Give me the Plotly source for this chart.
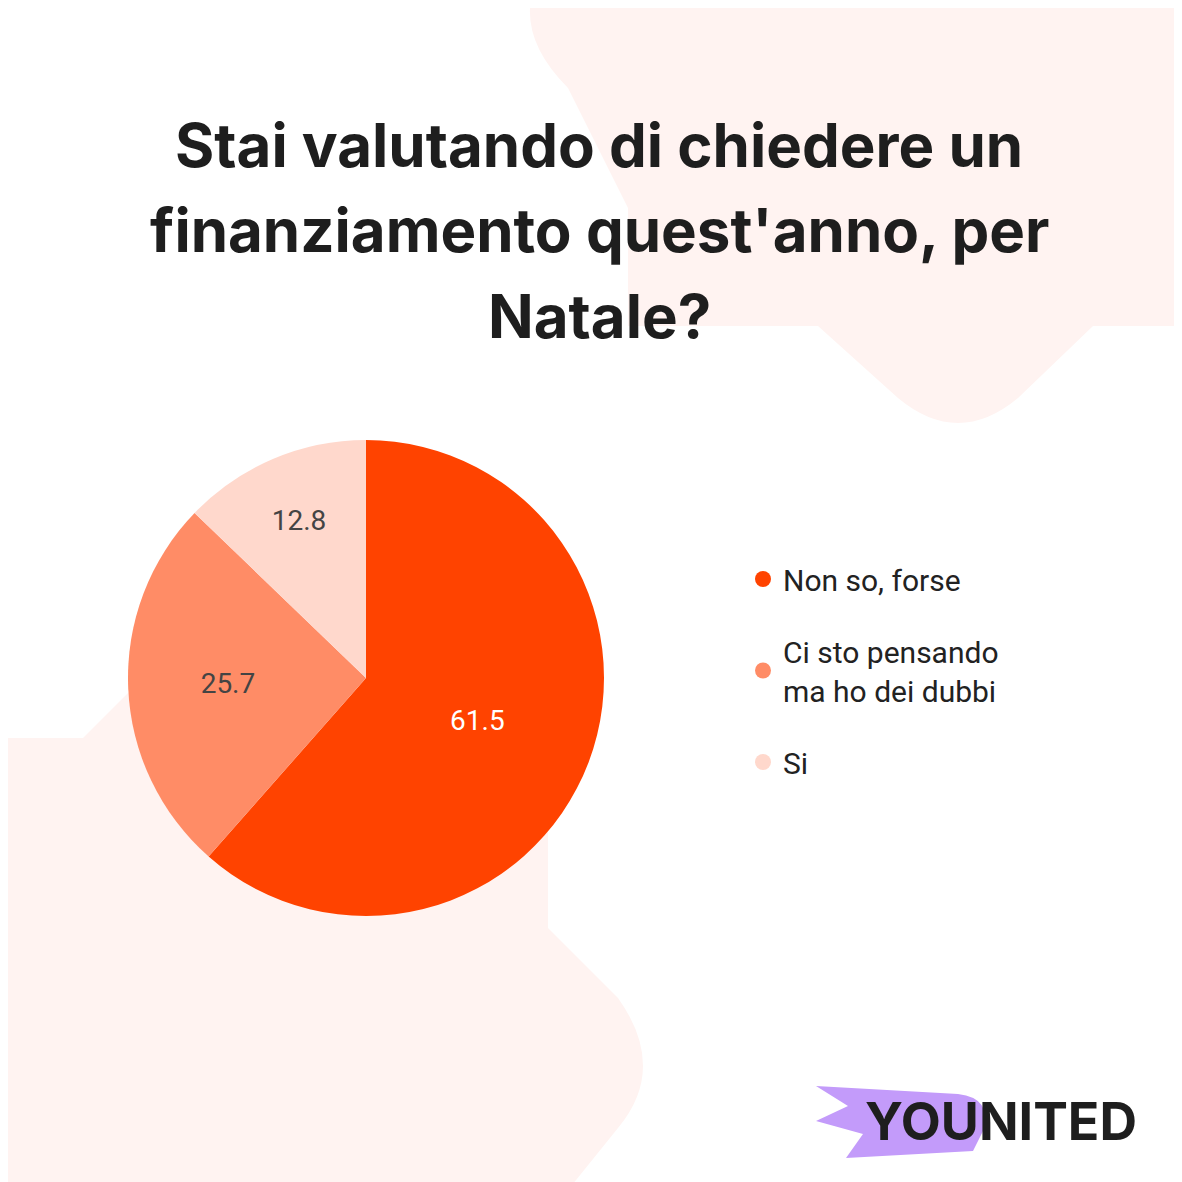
import plotly.graph_objects as go

labels = ["Non so, forse", "Ci sto pensando<br>ma ho dei dubbi", "Si"]
values = [61.5, 25.7, 12.8]
colors = ["#FF4300", "#FF8C66", "#FFD8CC"]
text_colors = ["white", "#444444", "#444444"]
title_lines = ["Stai valutando di chiedere un", "finanziamento quest'anno, per", "Natale?"]

W = 1182
def px(x): return x / W
def py(y): return 1 - y / W

fig = go.Figure(go.Pie(
    labels=labels, values=values, sort=False, direction="clockwise", rotation=0,
    marker=dict(colors=colors), textinfo="value", texttemplate="%{value}",
    textfont=dict(size=28, color=text_colors, family="Roboto"),
    insidetextorientation="horizontal", showlegend=False,
    domain=dict(x=[px(120), px(596)], y=[py(908), py(432)]),
    hoverinfo="skip",
))
for i, (lab, col) in enumerate(zip(labels, colors)):
    fig.add_trace(go.Scatter(x=[None], y=[None], mode="markers", name=lab, legendgroup=str(i),
                             marker=dict(symbol="circle", size=40, color=col)))

bg = "#FFF3F1"
shapes = [
    dict(type="path", xref="paper", yref="paper", layer="below", fillcolor=bg, line=dict(width=0),
         path=f"M {px(522)},1 L 1,1 L 1,{py(318)} L {px(1085)},{py(318)} L {px(1010)},{py(390)} Q {px(950)},{py(440)} {px(890)},{py(390)} L {px(810)},{py(318)} L {px(620)},{py(318)} L {px(620)},{py(200)} L {px(560)},{py(80)} Q {px(520)},{py(40)} {px(522)},1 Z"),
    dict(type="path", xref="paper", yref="paper", layer="below", fillcolor=bg, line=dict(width=0),
         path=f"M 0,{py(730)} L {px(75)},{py(730)} L {px(145)},{py(660)} L {px(540)},{py(660)} L {px(540)},{py(920)} L {px(610)},{py(990)} Q {px(660)},{py(1060)} {px(610)},{py(1120)} L {px(560)},0 L 0,0 Z"),
    dict(type="path", xref="paper", yref="paper", layer="below", fillcolor="#C39BFA", line=dict(width=0),
         path=f"M {px(808)},{py(1078)} L {px(950)},{py(1086)} Q {px(985)},{py(1090)} {px(975)},{py(1123)} L {px(965)},{py(1143)} L {px(838)},{py(1150)} L {px(855)},{py(1126)} L {px(808)},{py(1113)} L {px(840)},{py(1098)} Z"),
]

annotations = [
    dict(text=f"<b>{t}</b>", x=px(591), y=py(y), xref="paper", yref="paper", showarrow=False,
         font=dict(size=60, family="Inter", color="#1E1E1E"), yanchor="middle", xanchor="center")
    for t, y in zip(title_lines, [137, 222, 308])
]
annotations.append(dict(text="<b>YOUNITED</b>", x=px(855), y=py(1113), xref="paper", yref="paper",
                        showarrow=False, yanchor="middle", xanchor="left",
                        font=dict(size=52, family="Inter", color="#1E1E1E")))

fig.update_layout(
    width=W, height=W, margin=dict(l=0, r=0, t=0, b=0),
    paper_bgcolor="white", plot_bgcolor="rgba(0,0,0,0)", shapes=shapes,
    showlegend=True,
    xaxis=dict(visible=False), yaxis=dict(visible=False),
    legend=dict(x=px(735), y=py(545), xanchor="left", yanchor="top",
                font=dict(size=30, family="Roboto", color="#222222"),
                tracegroupgap=30, bgcolor="rgba(0,0,0,0)"),
    annotations=annotations,
)
fig.write_html("out.html")
